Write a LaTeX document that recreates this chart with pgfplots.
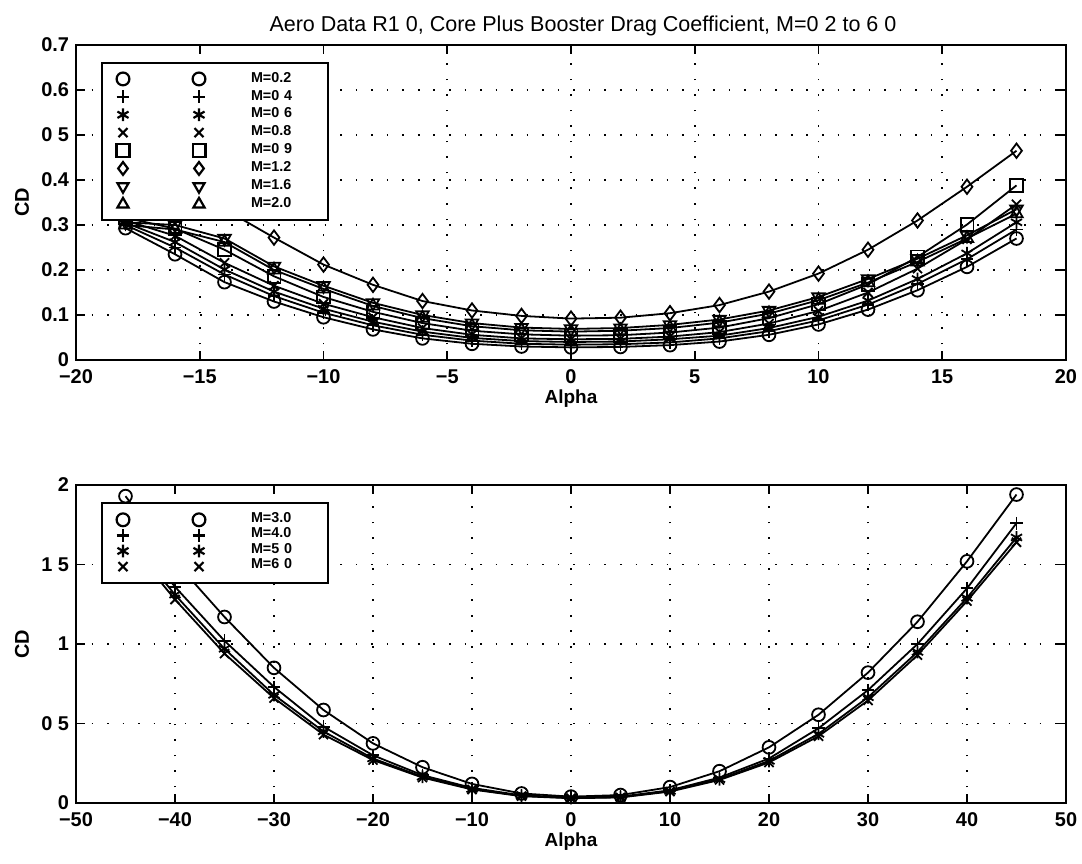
\documentclass[border=0pt]{standalone}
\usepackage{pgfplots}
\usepackage{pgfplotstable}
\pgfplotsset{compat=1.18}
\usepackage{fontspec}
\setmainfont{Liberation Sans}

\pgfplotstableread{
a    m02   m04   m06   m08   m09   m12   m16   m20
-18 0.293 0.300 0.305 0.310 0.316 0.470 0.306 0.300
-16 0.235 0.250 0.262 0.276 0.292 0.400 0.300 0.290
-14 0.173 0.190 0.201 0.216 0.245 0.335 0.270 0.262
-12 0.130 0.142 0.152 0.165 0.186 0.272 0.208 0.200
-10 0.095 0.105 0.114 0.125 0.140 0.212 0.165 0.158
-8  0.068 0.077 0.085 0.095 0.107 0.167 0.127 0.120
-6  0.048 0.056 0.063 0.071 0.082 0.131 0.100 0.093
-4  0.036 0.043 0.049 0.056 0.065 0.110 0.082 0.075
-2  0.030 0.036 0.042 0.048 0.057 0.098 0.072 0.066
0   0.028 0.034 0.040 0.046 0.054 0.092 0.069 0.063
2   0.029 0.035 0.041 0.047 0.055 0.094 0.071 0.065
4   0.033 0.039 0.046 0.052 0.061 0.104 0.078 0.071
6   0.041 0.048 0.054 0.062 0.072 0.122 0.090 0.083
8   0.056 0.064 0.071 0.081 0.093 0.152 0.110 0.103
10  0.079 0.088 0.096 0.109 0.124 0.192 0.140 0.133
12  0.112 0.123 0.132 0.150 0.168 0.245 0.180 0.172
14  0.155 0.169 0.180 0.203 0.229 0.310 0.225 0.218
16  0.207 0.224 0.237 0.268 0.301 0.385 0.277 0.270
18  0.270 0.290 0.306 0.346 0.388 0.465 0.335 0.325
}\toptable

\pgfplotstableread{
a    m30   m40   m50   m60
-45 1.930 1.740 1.690 1.660
-40 1.520 1.360 1.310 1.280
-35 1.170 1.020 0.970 0.940
-30 0.850 0.730 0.680 0.660
-25 0.585 0.480 0.450 0.430
-20 0.375 0.300 0.280 0.270
-15 0.225 0.175 0.165 0.160
-10 0.120 0.095 0.088 0.085
-5  0.060 0.048 0.045 0.043
0   0.040 0.035 0.032 0.030
5   0.050 0.040 0.037 0.035
10  0.100 0.080 0.075 0.072
15  0.200 0.160 0.150 0.145
20  0.350 0.280 0.265 0.255
25  0.555 0.470 0.435 0.420
30  0.820 0.710 0.665 0.645
35  1.140 1.000 0.950 0.930
40  1.520 1.350 1.290 1.270
45  1.940 1.760 1.670 1.640
}\bottable

\pgfplotsset{
  myaxis/.style={
    scale only axis,
    width=495bp,
    axis line style={line width=1bp, black},
    tick style={line width=0.9bp, black},
    tick align=inside,
    major tick length=4.5bp,
    ticklabel style={font=\fontsize{10}{12}\selectfont\bfseries},
    xticklabel style={yshift=-1.5bp},
    grid=major,
    major grid style={black, line width=0.8bp, dash pattern=on 0.8pt off 7pt},
    every axis x label/.style={at={(axis description cs:0.5,0)}, anchor=center, yshift=-19.5bp, font=\fontsize{9.5}{11}\selectfont\bfseries},
    every axis y label/.style={at={(axis description cs:0,0.5)}, xshift=-27bp, rotate=90, anchor=center, font=\fontsize{10}{12}\selectfont\bfseries},
    legend style={at={(0,1)}, anchor=north west, xshift=12.5bp, yshift=-8.5bp,
      draw=black, line width=1bp, fill=white, inner xsep=6.5bp,
      font=\fontsize{7.2}{8}\selectfont\bfseries,
      row sep=0pt, column sep=0pt},
    legend cell align=left,
    legend image code/.code={\draw[#1] plot coordinates {(0bp,0bp)}; \draw[#1] plot coordinates {(38bp,0bp)}; \path[draw=none,fill=none] (-4bp,0bp) -- (64bp,0bp);},
    legend image post style={mark size=3.2bp, line width=1.1bp},
    every axis plot/.append style={black, line width=0.9bp, mark size=3.2bp},
  }
}

\begin{document}
\begin{tikzpicture}
\useasboundingbox (0,0) rectangle (541bp,-432bp);
\begin{axis}[myaxis,
  at={(38bp,-22.5bp)}, anchor=north west, height=157.5bp,
  xmin=-20, xmax=20, ymin=0, ymax=0.7,
  xtick={-20,-15,...,20}, xticklabels={−20,−15,−10,−5,0,5,10,15,20},
  ytick={0,0.1,...,0.7}, yticklabels={0,0.1,0.2,0.3,0.4,0 5,0.6,0.7},
  xlabel={Alpha}, ylabel={CD},
  title={Aero Data R1 0, Core Plus Booster Drag Coefficient, M=0 2 to 6 0},
  title style={font=\fontsize{10.8}{12}\selectfont, at={(0.5,1)}, anchor=base, yshift=1bp, xshift=6bp},
  legend style={inner ysep=3.5bp, nodes={inner xsep=0pt, inner ysep=0pt, text height=6.05bp, text depth=2.9bp, text width=32bp, align=left}},
]
\addplot[mark=o] table[x=a,y=m02]{\toptable};
\addlegendentry{M=0.2}
\addplot[mark=+] table[x=a,y=m04]{\toptable};
\addlegendentry{M=0 4}
\addplot[mark=asterisk] table[x=a,y=m06]{\toptable};
\addlegendentry{M=0 6}
\addplot[mark=x] table[x=a,y=m08]{\toptable};
\addlegendentry{M=0.8}
\addplot[mark=square] table[x=a,y=m09]{\toptable};
\addlegendentry{M=0 9}
\addplot[mark=diamond, mark size=3.6bp] table[x=a,y=m12]{\toptable};
\addlegendentry{M=1.2}
\addplot[mark=triangle, mark options={rotate=180}, mark size=3.6bp] table[x=a,y=m16]{\toptable};
\addlegendentry{M=1.6}
\addplot[mark=triangle, mark size=3.6bp] table[x=a,y=m20]{\toptable};
\addlegendentry{M=2.0}
\end{axis}

\begin{axis}[myaxis,
  at={(38bp,-242.5bp)}, anchor=north west, height=159bp,
  xmin=-50, xmax=50, ymin=0, ymax=2,
  xtick={-50,-40,...,50}, xticklabels={−50,−40,−30,−20,−10,0,10,20,30,40,50},
  ytick={0,0.5,1,1.5,2}, yticklabels={0,0 5,1,1 5,2},
  xlabel={Alpha}, ylabel={CD},
  legend style={inner ysep=4.5bp, nodes={inner xsep=0pt, inner ysep=0pt, text height=5.0bp, text depth=2.8bp, text width=32bp, align=left}},
]
\addplot[mark=o] table[x=a,y=m30]{\bottable};
\addlegendentry{M=3.0}
\addplot[mark=+] table[x=a,y=m40]{\bottable};
\addlegendentry{M=4.0}
\addplot[mark=asterisk] table[x=a,y=m50]{\bottable};
\addlegendentry{M=5 0}
\addplot[mark=x] table[x=a,y=m60]{\bottable};
\addlegendentry{M=6 0}
\end{axis}
\end{tikzpicture}
\end{document}
